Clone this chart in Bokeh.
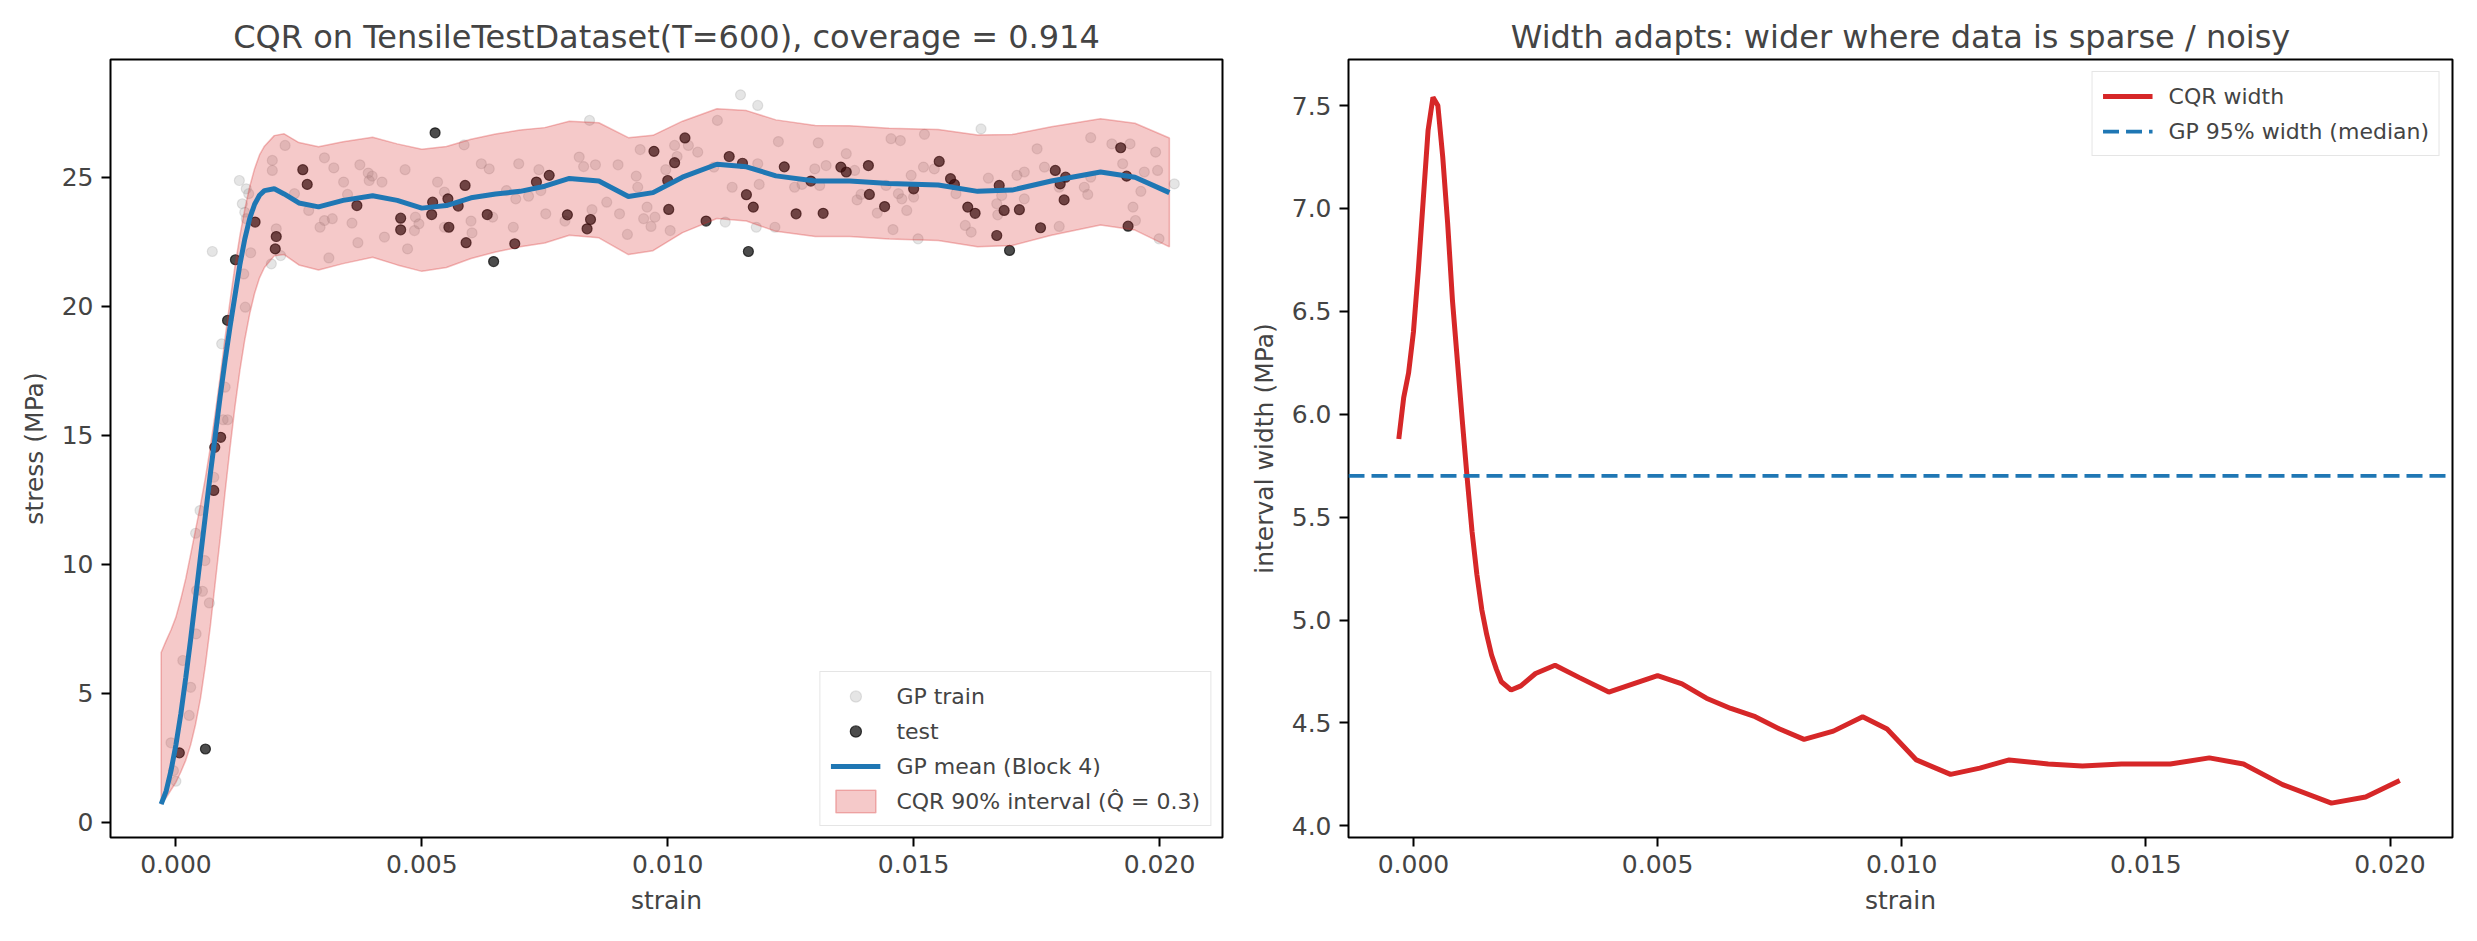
from bokeh.plotting import figure
from bokeh.layouts import row
from bokeh.models import Range1d, FixedTicker, Legend, LegendItem
from bokeh.embed import file_html
from bokeh.resources import INLINE

FONT = "DejaVu Sans"

# strain grid shared by the fitted curves
strain = [-0.0003, -0.0002, -0.0001, 0.0, 0.0001, 0.0002, 0.0003, 0.0004, 0.0005, 0.0006,
          0.0007, 0.0008, 0.0009, 0.0010, 0.0011, 0.0012, 0.0013, 0.0014, 0.0015, 0.0016,
          0.0017, 0.0018, 0.0020, 0.0022, 0.0025, 0.0029, 0.0034, 0.0040, 0.0045, 0.0050,
          0.0055, 0.0060, 0.0065, 0.0070, 0.0075, 0.0080, 0.0086, 0.0092, 0.0097, 0.0103,
          0.0110, 0.0116, 0.0122, 0.0130, 0.0137, 0.0145, 0.0155, 0.0163, 0.0170, 0.0178,
          0.0188, 0.0195, 0.0202]

gp_mean = [0.70, 1.20, 2.00, 3.00, 4.20, 5.60, 7.10, 8.70, 10.30, 11.90,
           13.50, 15.00, 16.50, 17.90, 19.20, 20.40, 21.60, 22.60, 23.40, 23.95,
           24.30, 24.48, 24.55, 24.35, 24.00, 23.85, 24.10, 24.28, 24.10, 23.80,
           23.90, 24.20, 24.35, 24.45, 24.65, 24.95, 24.85, 24.25, 24.40, 25.00,
           25.50, 25.40, 25.05, 24.85, 24.85, 24.75, 24.70, 24.45, 24.50, 24.85,
           25.20, 25.00, 24.40]

cqr_lo = [0.70, 0.95, 1.25, 1.55, 1.95, 2.40, 3.00, 3.80, 4.80, 6.10,
          7.60, 9.30, 11.00, 12.80, 14.50, 16.10, 17.50, 18.70, 19.70, 20.50,
          21.10, 21.50, 21.95, 22.00, 21.60, 21.40, 21.65, 21.90, 21.60, 21.35,
          21.50, 21.85, 22.10, 22.30, 22.45, 22.75, 22.65, 22.00, 22.15, 22.85,
          23.40, 23.30, 22.90, 22.70, 22.70, 22.60, 22.55, 22.30, 22.35, 22.75,
          23.15, 22.95, 22.30]

cqr_hi = [6.58, 7.03, 7.45, 7.95, 8.65, 9.44, 10.38, 11.34, 12.30, 13.35,
          14.53, 15.85, 17.26, 18.77, 20.19, 21.53, 22.72, 23.75, 24.63, 25.33,
          25.86, 26.20, 26.61, 26.68, 26.34, 26.18, 26.37, 26.55, 26.29, 26.08,
          26.19, 26.47, 26.67, 26.83, 26.92, 27.17, 27.11, 26.53, 26.62, 27.17,
          27.65, 27.58, 27.22, 27.00, 26.99, 26.90, 26.85, 26.63, 26.65, 26.95,
          27.26, 27.09, 26.52]

gp_width_median = 5.70

train_strain = [
    0.0, -0.00005, -0.0001, 0.00027, 0.0003, 0.00014, 0.00041, 0.00068, 0.00042, 0.00054,
    0.00059, 0.0004, 0.00049, 0.00077, 0.00096, 0.00105, 0.001, 0.00093, 0.00141, 0.00138,
    0.00074, 0.00129, 0.00143, 0.00148, 0.00135, 0.0014, 0.00143, 0.00152, 0.00194, 0.00196,
    0.00196, 0.00222, 0.00204, 0.00213, 0.00241, 0.0027, 0.00302, 0.00321, 0.00293, 0.00302,
    0.00318, 0.00311, 0.00341, 0.00358, 0.0037, 0.00349, 0.00374, 0.00391, 0.00393, 0.00399,
    0.00419, 0.00424, 0.00471, 0.00466, 0.00487, 0.00485, 0.00494, 0.00532, 0.00546, 0.00546,
    0.00586, 0.006, 0.00602, 0.00621, 0.00637, 0.00644, 0.00672, 0.00686, 0.00691, 0.00697,
    0.00717, 0.00738, 0.00742, 0.00752, 0.00791, 0.0082, 0.00829, 0.00841, 0.00853, 0.00846,
    0.00876, 0.00899, 0.00902, 0.00918, 0.00936, 0.00939, 0.00944, 0.00951, 0.00958, 0.00966,
    0.00974, 0.00996, 0.01005, 0.01014, 0.01019, 0.01042, 0.01061, 0.01094, 0.01101, 0.01117,
    0.01131, 0.01148, 0.01183, 0.0118, 0.01186, 0.01183, 0.01218, 0.01225,
    0.01306, 0.01258, 0.01273, 0.01299, 0.01309, 0.01322, 0.01363, 0.0138, 0.01385, 0.01393,
    0.01426, 0.01444, 0.01454, 0.01458, 0.01473, 0.01469, 0.01476, 0.01486, 0.01495, 0.015,
    0.01509, 0.01522, 0.0152, 0.01542, 0.01586, 0.01605, 0.01617, 0.01637, 0.01652, 0.01669,
    0.01671, 0.01679, 0.0171, 0.01725, 0.01725, 0.01751, 0.01766, 0.01796, 0.01796, 0.01847,
    0.01854, 0.0186, 0.0186, 0.01903, 0.01925, 0.0194, 0.01946, 0.01962, 0.01969, 0.01951,
    0.01992, 0.01996, 0.01999, 0.0203]
train_stress = [
    1.59, 2.0, 3.08, 4.14, 5.23, 6.27, 7.3, 8.5, 8.98, 8.95,
    10.14, 11.2, 12.08, 13.37, 15.6, 15.6, 16.86, 18.54, 19.96, 21.25,
    22.12, 24.87, 24.55, 24.36, 23.97, 23.64, 23.39, 22.07, 21.64, 25.65,
    25.26, 26.23, 23.0, 21.96, 24.36, 23.71, 25.75, 25.36, 23.06, 23.32,
    23.39, 21.87, 24.81, 23.22, 22.46, 24.33, 25.48, 25.16, 24.87, 25.04,
    24.81, 22.68, 22.22, 25.29, 23.45, 22.93, 23.19, 24.81, 24.42, 23.06,
    26.25, 23.3, 22.84, 25.52, 25.32, 23.45, 24.48, 23.06, 24.16, 25.52,
    24.26, 25.29, 24.48, 23.58, 23.3, 25.78, 25.41, 27.2, 25.48, 23.74,
    24.03, 25.48, 23.58, 22.78, 25.04, 24.61, 26.07, 23.39, 23.84, 23.09,
    23.45, 25.29, 22.93, 26.23, 25.8, 26.23, 25.97, 25.39, 27.2, 23.26,
    24.61, 28.19, 27.78, 23.06, 24.72, 25.52, 23.06, 26.38,
    26.33, 24.61, 24.72, 25.32, 24.68, 25.45, 25.91, 25.26, 24.12, 24.33,
    23.61, 24.68, 26.49, 22.97, 26.42, 24.36, 24.16, 23.71, 25.07, 24.23,
    22.61, 26.66, 25.39, 25.32, 24.36, 23.13, 22.87, 26.87, 24.96, 23.97,
    23.54, 24.29, 25.07, 25.2, 24.16, 26.1, 25.39, 23.09, 24.61, 24.61,
    24.33, 26.53, 25.0, 26.29, 25.52, 26.29, 23.84, 24.45, 25.2, 23.32,
    25.97, 25.26, 22.61, 24.74]

test_strain = [
    0.00007, 0.0006, 0.00077, 0.00079, 0.00091, 0.00105, 0.00121, 0.00161, 0.00204, 0.00202,
    0.00258, 0.00267, 0.00368, 0.00457, 0.00457, 0.00527, 0.00522, 0.0052, 0.00553, 0.00574,
    0.00555, 0.00588, 0.0059, 0.00633, 0.00646, 0.00689, 0.00733, 0.00759, 0.00796, 0.00843,
    0.00836, 0.00972, 0.01014, 0.01, 0.01002, 0.01035, 0.01078, 0.01125, 0.01152, 0.0116,
    0.01174, 0.01164, 0.01237, 0.01291, 0.01261, 0.01316, 0.01352, 0.01363, 0.01408, 0.0141,
    0.01441, 0.015, 0.01552, 0.01575, 0.01583, 0.0161, 0.01625, 0.01674, 0.01684, 0.01715,
    0.01669, 0.01695, 0.01758, 0.01788, 0.01798, 0.01809, 0.01806, 0.01921, 0.01933, 0.01936]
test_stress = [
    2.69, 2.84, 12.86, 14.53, 14.92, 19.45, 21.8, 23.26, 22.7, 22.22,
    25.29, 24.72, 23.9, 23.41, 22.96, 26.72, 24.03, 23.55, 24.16, 23.88,
    23.06, 24.68, 22.46, 23.55, 21.73, 22.42, 24.81, 25.07, 23.54, 23.36,
    23.0, 26.0, 25.56, 24.87, 23.75, 26.52, 23.3, 25.8, 25.54, 24.32,
    23.84, 22.12, 25.4, 24.85, 23.58, 23.6, 25.39, 25.2, 25.45, 24.33,
    23.86, 24.55, 25.61, 24.94, 24.72, 23.84, 23.6, 24.68, 23.71, 23.74,
    22.74, 22.16, 23.04, 25.26, 24.74, 25.0, 24.12, 26.14, 25.04, 23.1]

x_ticks = [0.0, 0.005, 0.010, 0.015, 0.020]
x_tick_labels = ["0.000", "0.005", "0.010", "0.015", "0.020"]
stress_ticks = [0, 5, 10, 15, 20, 25]
width_ticks = [4.0, 4.5, 5.0, 5.5, 6.0, 6.5, 7.0, 7.5]
width_tick_labels = ["4.0", "4.5", "5.0", "5.5", "6.0", "6.5", "7.0", "7.5"]

cqr_width = [hi - lo for lo, hi in zip(cqr_lo, cqr_hi)]

X_LO, X_HI = -0.00133, 0.02128
RED = "#d62728"
BLUE = "#1f77b4"


def style(p):
    p.title.text_font = FONT
    p.title.text_font_size = "32px"
    p.title.text_font_style = "normal"
    p.title.align = "center"
    p.title.standoff = 8
    p.outline_line_color = "black"
    p.outline_line_width = 2
    p.outline_line_alpha = 1
    p.grid.visible = False
    for ax in p.axis:
        ax.axis_line_color = None
        ax.major_tick_line_width = 2
        ax.major_tick_out = 9
        ax.major_tick_in = 0
        ax.minor_tick_line_color = None
        ax.major_label_text_font = FONT
        ax.major_label_text_font_size = "25px"
        ax.major_label_standoff = 8
        ax.axis_label_text_font = FONT
        ax.axis_label_text_font_size = "25px"
        ax.axis_label_text_font_style = "normal"
        ax.axis_label_standoff = 10
    p.xaxis.ticker = FixedTicker(ticks=x_ticks)
    p.xaxis.major_label_overrides = dict(zip(x_ticks, x_tick_labels))
    p.xaxis.axis_label = "strain"


def legend_style(leg):
    leg.label_text_font = FONT
    leg.label_text_font_size = "22px"
    leg.glyph_width = 50
    leg.glyph_height = 28
    leg.label_standoff = 16
    leg.padding = 10
    leg.spacing = 7
    leg.border_line_color = "#cccccc"
    leg.border_line_width = 1.5
    leg.background_fill_alpha = 0.8


# ---- left: data + CQR band
p1 = figure(width=1242, height=933, min_border_left=110, min_border_right=20,
            min_border_top=59, min_border_bottom=96,
            x_range=Range1d(X_LO, X_HI), y_range=Range1d(-0.59, 29.56),
            title="CQR on TensileTestDataset(T=600), coverage = 0.914",
            output_backend="svg", toolbar_location=None)
style(p1)
p1.yaxis.ticker = FixedTicker(ticks=stress_ticks)
p1.yaxis.axis_label = "stress (MPa)"

r_train = p1.scatter(train_strain, train_stress, size=10, fill_color="#999999", fill_alpha=0.25,
                     line_color="#999999", line_alpha=0.25, line_width=1.2)
r_test = p1.scatter(test_strain, test_stress, size=10, fill_color="black", fill_alpha=0.7,
                    line_color="black", line_alpha=0.7, line_width=1.2)
r_band = p1.patch(strain + strain[::-1], cqr_lo + cqr_hi[::-1], fill_color=RED, fill_alpha=0.25,
                  line_color=RED, line_alpha=0.3, line_width=1.5)
r_mean = p1.line(strain, gp_mean, line_color=BLUE, line_width=5)

leg1 = Legend(items=[
    LegendItem(label="GP train", renderers=[r_train]),
    LegendItem(label="test", renderers=[r_test]),
    LegendItem(label="GP mean (Block 4)", renderers=[r_mean]),
    LegendItem(label="CQR 90% interval (Q\u0302 = 0.3)", renderers=[r_band]),
], location="bottom_right", margin=11)
legend_style(leg1)
p1.add_layout(leg1)

# ---- right: interval width
p2 = figure(width=1220, height=933, min_border_left=106, min_border_right=10,
            min_border_top=59, min_border_bottom=96,
            x_range=Range1d(X_LO, X_HI), y_range=Range1d(3.943, 7.724),
            title="Width adapts: wider where data is sparse / noisy",
            output_backend="svg", toolbar_location=None)
style(p2)
p2.yaxis.ticker = FixedTicker(ticks=width_ticks)
p2.yaxis.major_label_overrides = dict(zip(width_ticks, width_tick_labels))
p2.yaxis.axis_label = "interval width (MPa)"

r_w = p2.line(strain, cqr_width, line_color=RED, line_width=5)
# horizontal reference line across the full x range
r_gp = p2.line([X_LO, X_HI], [gp_width_median, gp_width_median], line_color=BLUE,
               line_width=3.75, line_dash="16 7")

leg2 = Legend(items=[
    LegendItem(label="CQR width", renderers=[r_w]),
    LegendItem(label="GP 95% width (median)", renderers=[r_gp]),
], location="top_right", margin=12)
legend_style(leg2)
p2.add_layout(leg2)

layout = row(p1, p2)
open("out.html", "w").write(file_html(layout, INLINE))
